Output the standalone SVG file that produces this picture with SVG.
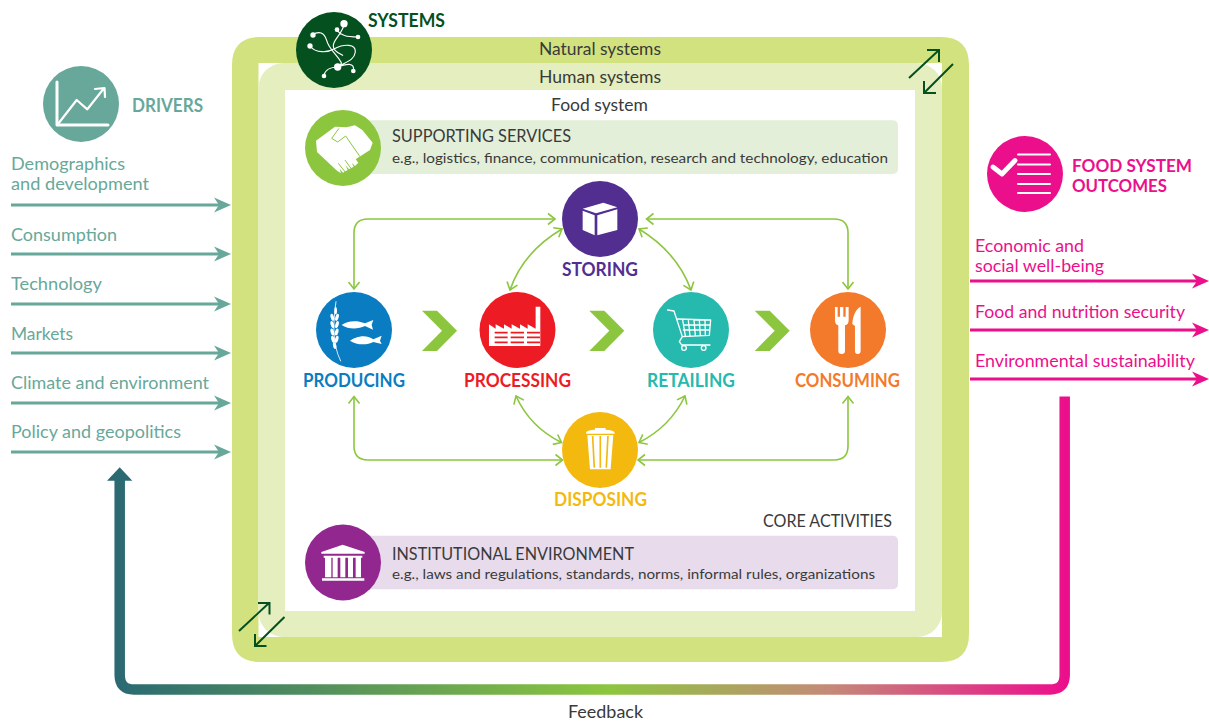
<svg xmlns="http://www.w3.org/2000/svg" width="1209" height="721" viewBox="0 0 1209 721">
<style>
text{font-family:Lato,"Open Sans",sans-serif;font-size:16.500px;fill:#3a3a3a}
.sub{font-size:14.200px}
.b{font-weight:700;font-size:18px}
.two{font-size:16.600px}
.drv{fill:#67a89a}.out{fill:#ec0f8c}
.w{fill:#fff}
.ws{fill:none;stroke:#fff;stroke-linecap:round;stroke-linejoin:round}
.rel{fill:none;stroke:#8cc63f;stroke-width:1.600;marker-start:url(#chev);marker-end:url(#chev)}
.dl{fill:none;stroke:#67a89a;stroke-width:3;marker-end:url(#hd)}
.ol{fill:none;stroke:#ec0f8c;stroke-width:3;marker-end:url(#ho)}
.flow{fill:#8cc63f}
.dg{fill:none;stroke:#05501f;stroke-width:2}
</style>
<defs>
<marker id="chev" viewBox="-8 -7 10 14" refX="0" refY="0" markerWidth="10" markerHeight="14" markerUnits="userSpaceOnUse" orient="auto-start-reverse"><path d="M-7 -5.500L0 0L-7 5.500" fill="none" stroke="#8cc63f" stroke-width="1.600"/></marker>
<marker id="hd" viewBox="0 -8 18 16" refX="8" refY="0" markerWidth="18" markerHeight="16" markerUnits="userSpaceOnUse" orient="auto"><path d="M0 -7.500L17 0L0 7.500L5 0Z" fill="#67a89a"/></marker>
<marker id="ho" viewBox="0 -8 18 16" refX="8" refY="0" markerWidth="18" markerHeight="16" markerUnits="userSpaceOnUse" orient="auto"><path d="M0 -7.500L17 0L0 7.500L5 0Z" fill="#ec0f8c"/></marker>
<linearGradient id="fb" gradientUnits="userSpaceOnUse" x1="120" y1="0" x2="1065" y2="0"><stop offset="0" stop-color="#2b6a72"/><stop offset=".515" stop-color="#8cc63f"/><stop offset=".75" stop-color="#c48a78"/><stop offset="1" stop-color="#ec0f8c"/></linearGradient>
<path id="chv" d="M0 0H15L35 20L15 40.300H0L20 20Z"/>
</defs>

<g id="systems-frame">
<path fill="#d2e27f" fill-rule="evenodd" d="M260 37H941Q969 37 969 65V634Q969 662 941 662H260Q232 662 232 634V65Q232 37 260 37ZM258.500 63V637H942V63Z"/>
<rect x="258.500" y="63" width="683.500" height="574" rx="25" fill="#e4eebe"/>
<rect x="285" y="90" width="630" height="521" fill="#fff"/>
<text x="539" y="55" textLength="122" lengthAdjust="spacingAndGlyphs">Natural systems</text>
<text x="539" y="83" textLength="122" lengthAdjust="spacingAndGlyphs">Human systems</text>
<text x="551" y="111" textLength="97" lengthAdjust="spacingAndGlyphs">Food system</text>
<path class="dg" d="M909 78L939 50M927 50H939V62M953 64L924 93M924 81V93H936"/>
<path class="dg" d="M239 631L269 603M258 603H269.500V614.500M284.500 617L255 646M255 634V646H266.500"/>
</g>

<g id="connectors">
<path class="rel" d="M354 289V233Q354 219 368 219H555"/>
<path class="rel" d="M646.500 219H834Q848 219 848 233V289"/>
<path class="rel" d="M510 290Q523 252 562 229"/>
<path class="rel" d="M639 229Q677 252 691 290"/>
<path class="rel" d="M354 396.500V446Q354 460 368 460H562.500"/>
<path class="rel" d="M638 460H834Q848 460 848 446V396.500"/>
<path class="rel" d="M516 396Q530 427 561.500 442.500"/>
<path class="rel" d="M685 396Q670 427 639 442.500"/>
<use href="#chv" class="flow" x="422" y="310.700"/>
<use href="#chv" class="flow" x="589.300" y="310.700"/>
<use href="#chv" class="flow" x="754.700" y="310.700"/>
<path class="dl" d="M11 205H222"/>
<path class="dl" d="M11 254H222"/>
<path class="dl" d="M11 304H222"/>
<path class="dl" d="M11 353H222"/>
<path class="dl" d="M11 403H222"/>
<path class="dl" d="M11 452H222"/>
<path class="ol" d="M970 281H1200"/>
<path class="ol" d="M970 330H1200"/>
<path class="ol" d="M970 379H1200"/>
<path fill="none" stroke="url(#fb)" stroke-width="10.500" d="M1064.700 396.500V675Q1064.700 689.500 1050 689.500H134Q119.700 689.500 119.700 675V478"/>
<path fill="#2b6a72" d="M119.700 467.300L132.300 480.800H107Z"/>
</g>

<g id="drivers">
<circle cx="81" cy="104" r="38" fill="#67a89a"/>
<path class="ws" stroke-width="3" stroke-linecap="butt" d="M57 82V125H108"/>
<path class="ws" stroke-width="2.200" d="M58 124L76.700 100L87.300 109.300L104 88.300M95 89L104.500 88L105 97"/>
<text class="b drv" x="132" y="112" textLength="71" lengthAdjust="spacingAndGlyphs">DRIVERS</text>
<text class="drv" x="11" y="170" textLength="114" lengthAdjust="spacingAndGlyphs">Demographics</text>
<text class="drv" x="11" y="190" textLength="138" lengthAdjust="spacingAndGlyphs">and development</text>
<text class="drv" x="11" y="241" textLength="106" lengthAdjust="spacingAndGlyphs">Consumption</text>
<text class="drv" x="11" y="290" textLength="91" lengthAdjust="spacingAndGlyphs">Technology</text>
<text class="drv" x="11" y="340" textLength="62" lengthAdjust="spacingAndGlyphs">Markets</text>
<text class="drv" x="11" y="389" textLength="198" lengthAdjust="spacingAndGlyphs">Climate and environment</text>
<text class="drv" x="11" y="438" textLength="170" lengthAdjust="spacingAndGlyphs">Policy and geopolitics</text>
</g>

<g id="outcomes">
<circle cx="1025" cy="174" r="38" fill="#ec0f8c"/>
<path class="ws" stroke-width="2" stroke-linecap="butt" d="M1018 154.500H1050M1018 164.500H1050M1018 174H1050M1018 184H1050M1018 193H1050"/>
<path class="ws" stroke-width="4.800" stroke-linecap="butt" stroke-linejoin="miter" d="M993 167L1002 174L1015 160.500"/>
<text class="b two out" x="1072" y="172" textLength="120" lengthAdjust="spacingAndGlyphs">FOOD SYSTEM</text>
<text class="b two out" x="1072" y="192" textLength="95" lengthAdjust="spacingAndGlyphs">OUTCOMES</text>
<text class="out" x="975" y="252" textLength="109" lengthAdjust="spacingAndGlyphs">Economic and</text>
<text class="out" x="975" y="272" textLength="129" lengthAdjust="spacingAndGlyphs">social well-being</text>
<text class="out" x="975" y="318" textLength="210" lengthAdjust="spacingAndGlyphs">Food and nutrition security</text>
<text class="out" x="975" y="367" textLength="220" lengthAdjust="spacingAndGlyphs">Environmental sustainability</text>
</g>

<g id="systems">
<circle cx="334" cy="50" r="38" fill="#05501f"/>
<g transform="translate(296 12) scale(.3333)">
<path class="ws" stroke-width="3.500" d="M48 69C70 55 85 62 92 85C98 110 120 125 135 150C140 158 125 165 118 165M42 102C60 125 95 122 115 110C145 95 180 95 178 120C175 145 150 150 125 165M145 35C140 60 125 70 115 90C105 110 120 120 140 130M123 55C135 70 150 75 185 75M125 165C110 165 88 170 84 190M125 165C150 155 178 150 172 177"/>
<g class="w"><circle cx="144" cy="35" r="11"/><circle cx="123" cy="53" r="7"/><circle cx="186" cy="75" r="7"/><circle cx="51" cy="69" r="8"/><circle cx="42" cy="102" r="8"/><circle cx="125" cy="165" r="11"/><circle cx="172" cy="177" r="7"/><circle cx="84" cy="192" r="7"/></g>
</g>
<text class="b" style="fill:#05501f" x="368" y="27" textLength="77" lengthAdjust="spacingAndGlyphs">SYSTEMS</text>
</g>

<g id="supporting-services">
<rect x="350" y="120.300" width="548" height="53.700" rx="5" fill="#e3efd9"/>
<circle cx="343" cy="148" r="38" fill="#8cc63f"/>
<g transform="translate(305 110) scale(.3333)">
<path class="w" d="M33 92L90 50L125 52L150 46L172 60L203 98L195 120L152 148L160 158L150 168L140 158L146 170L132 178L122 166L128 180L114 188L104 176L108 190L96 182L36 126Z"/>
<path fill="none" stroke="#8cc63f" stroke-width="3" d="M80 85L102 55M80 85L98 96L122 78L165 140M120 150L140 178M100 160L122 188"/>
</g>
<text x="392" y="142" textLength="179" lengthAdjust="spacingAndGlyphs">SUPPORTING SERVICES</text>
<text class="sub" x="392" y="163" textLength="496" lengthAdjust="spacingAndGlyphs">e.g., logistics, finance, communication, research and technology, education</text>
</g>

<g id="institutional-environment">
<rect x="350" y="535.700" width="548" height="53.500" rx="5" fill="#e8dcec"/>
<circle cx="343" cy="562.500" r="38" fill="#92278f"/>
<g transform="translate(230 390) scale(.3333)">
<path class="w" d="M274 486L338 464L404 486V491H274ZM281 497H397V503H281ZM285 503H304V562H285ZM308 503H323V562H308ZM331 503H346V562H331ZM354 503H369V562H354ZM377 503H393V562H377ZM276 565H403V572H276Z"/>
</g>
<text x="392" y="560" textLength="242" lengthAdjust="spacingAndGlyphs">INSTITUTIONAL ENVIRONMENT</text>
<text class="sub" x="392" y="579" textLength="483" lengthAdjust="spacingAndGlyphs">e.g., laws and regulations, standards, norms, informal rules, organizations</text>
</g>
<text id="core-activities" x="763" y="527" textLength="129" lengthAdjust="spacingAndGlyphs">CORE ACTIVITIES</text>

<g id="storing">
<circle cx="600" cy="219" r="38" fill="#522e91"/>
<g transform="translate(570 190) scale(.3333)"><path class="w" d="M38 56L100 38L142 52L78 70ZM38 62L74 76V136L38 120ZM82 76L142 58V120L82 136Z"/></g>
<text class="b" style="fill:#522e91" x="562" y="276" textLength="76" lengthAdjust="spacingAndGlyphs">STORING</text>
</g>

<g id="producing">
<circle cx="354" cy="330" r="38" fill="#0a7dc2"/>
<g transform="translate(290 180) scale(.3333)">
<path class="ws" stroke-width="2.500" d="M138 365C130 420 125 490 152 543"/>
<g class="w"><ellipse cx="137" cy="392" rx="4" ry="11"/><ellipse cx="127" cy="412" rx="5" ry="11" transform="rotate(-15 127 412)"/><ellipse cx="141" cy="412" rx="5" ry="11" transform="rotate(15 141 412)"/><ellipse cx="127" cy="434" rx="5" ry="11" transform="rotate(-15 127 434)"/><ellipse cx="141" cy="434" rx="5" ry="11" transform="rotate(15 141 434)"/><ellipse cx="127" cy="456" rx="5" ry="11" transform="rotate(-15 127 456)"/><ellipse cx="140" cy="456" rx="5" ry="11" transform="rotate(15 140 456)"/><ellipse cx="129" cy="478" rx="5" ry="11" transform="rotate(-15 129 478)"/><ellipse cx="140" cy="478" rx="5" ry="11" transform="rotate(15 140 478)"/><ellipse cx="134" cy="497" rx="5" ry="10" transform="rotate(-10 134 497)"/>
<path d="M155 435C170 425 195 418 225 430L250 420L245 434L249 449L225 438C205 448 175 449 155 435Z"/>
<path d="M180 482C195 472 225 460 250 478L275 467L270 482L275 492L250 486C230 497 198 495 180 482Z"/></g>
</g>
<text class="b" style="fill:#0a7dc2" x="303" y="387" textLength="102" lengthAdjust="spacingAndGlyphs">PRODUCING</text>
</g>

<g id="processing">
<circle cx="517.500" cy="330" r="38" fill="#ed1c24"/>
<g transform="translate(290 180) scale(.3333)">
<path class="w" d="M597 498V433L617 446V433L642 446V433L665 446V433L690 446V433L713 446V433L737 446V380H751V498Z"/>
<path fill="none" stroke="#ed1c24" stroke-width="5" d="M614 458H653M662 458H702M711 458H750M614 472H653M662 472H702M711 472H750M614 487H653M662 487H702M711 487H750"/>
</g>
<text class="b" style="fill:#ed1c24" x="464" y="387" textLength="107" lengthAdjust="spacingAndGlyphs">PROCESSING</text>
</g>

<g id="retailing">
<circle cx="691" cy="330" r="38" fill="#26b9ad"/>
<g transform="translate(600 180) scale(.3333)">
<path class="ws" stroke-width="4" d="M203 390L222 393L247 470L238 485L245 495H330M247 470L328 466L332 420L233 417M250 435H330M250 450H330M248 420L256 468M265 420L270 468M282 420L286 467M298 420L301 467M315 420L316 466"/>
<circle cx="252" cy="504" r="7" class="ws" stroke-width="4"/><circle cx="311" cy="504" r="7" class="ws" stroke-width="4"/>
</g>
<text class="b" style="fill:#26b9ad" x="647" y="387" textLength="88" lengthAdjust="spacingAndGlyphs">RETAILING</text>
</g>

<g id="consuming">
<circle cx="848" cy="330" r="38" fill="#f47a2b"/>
<g transform="translate(600 180) scale(.3333)">
<path class="w" d="M705 381H713V410H720V381H730V410H737V381H746V420Q746 434 735 436V512Q735 522 725 522Q715 522 715 512V436Q705 434 705 420Z"/>
<path class="w" d="M757 432C758 410 768 385 782 380V512Q782 522 773 522Q765 522 765 512V438Z"/>
</g>
<text class="b" style="fill:#f47a2b" x="795" y="387" textLength="105" lengthAdjust="spacingAndGlyphs">CONSUMING</text>
</g>

<g id="disposing">
<circle cx="600" cy="450" r="38" fill="#f3b90f"/>
<g transform="translate(230 390) scale(.3333)">
<path class="w" d="M1068 128Q1070 120 1095 119V114H1127V119Q1152 120 1154 128V131H1068ZM1072 135H1150L1142 238H1080Z"/>
<path fill="none" stroke="#f3b90f" stroke-width="5" d="M1088 138L1093 233M1111 138V233M1134 138L1129 233"/>
</g>
<text class="b" style="fill:#f3b90f" x="554" y="505.500" textLength="93" lengthAdjust="spacingAndGlyphs">DISPOSING</text>
</g>

<text id="feedback" x="568" y="718" textLength="75" lengthAdjust="spacingAndGlyphs">Feedback</text>
</svg>
